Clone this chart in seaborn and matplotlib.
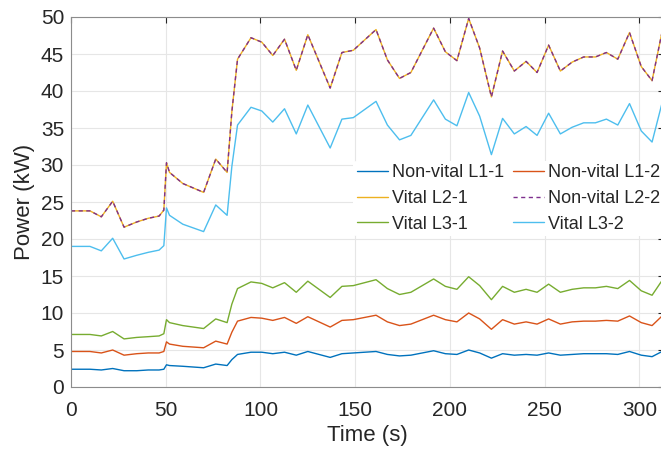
import matplotlib
matplotlib.use("Agg")
import matplotlib.pyplot as plt
import seaborn as sns

# ── Data ──────────────────────────────────────────────────────────────────────
time_s = [0, 10, 16, 22, 28, 34.7, 40.8, 46.5, 49, 50.4, 52, 59, 70, 76.4, 82.4,
          84.9, 87.9, 95, 100.7, 106.5, 112.7, 118.9, 125, 136.8, 143, 149, 161,
          167, 173.4, 179.4, 191.4, 197.6, 203.7, 209.9, 215.7, 221.9, 227.8, 234,
          240.2, 246, 252.1, 258.3, 264.5, 270.6, 276.8, 282.6, 288.6, 294.8, 301,
          306.7, 312]

nonvital_l1_1 = [2.4, 2.4, 2.3, 2.5, 2.2, 2.2, 2.3, 2.3, 2.4, 3.0, 2.9, 2.8, 2.6,
                 3.1, 2.9, 3.7, 4.4, 4.7, 4.7, 4.5, 4.7, 4.3, 4.8, 4.0, 4.5, 4.6,
                 4.8, 4.4, 4.2, 4.3, 4.9, 4.5, 4.4, 5.0, 4.6, 3.9, 4.5, 4.3, 4.4,
                 4.3, 4.6, 4.3, 4.4, 4.5, 4.5, 4.5, 4.4, 4.8, 4.3, 4.1, 4.8]

nonvital_l1_2 = [4.8, 4.8, 4.6, 5.0, 4.3, 4.5, 4.6, 4.6, 4.8, 6.1, 5.8, 5.5, 5.3,
                 6.2, 5.8, 7.4, 8.9, 9.4, 9.3, 9.0, 9.4, 8.6, 9.5, 8.1, 9.0, 9.1,
                 9.7, 8.8, 8.3, 8.5, 9.7, 9.1, 8.8, 10.0, 9.2, 7.8, 9.1, 8.5, 8.8,
                 8.5, 9.2, 8.5, 8.8, 8.9, 8.9, 9.0, 8.9, 9.6, 8.7, 8.3, 9.6]

vital_l2_1 = [23.8, 23.8, 23.0, 25.1, 21.6, 22.3, 22.8, 23.1, 23.9, 30.3, 29.0,
              27.5, 26.3, 30.8, 29.0, 37.2, 44.3, 47.2, 46.6, 44.8, 47.0, 42.8,
              47.6, 40.4, 45.2, 45.5, 48.3, 44.2, 41.7, 42.5, 48.5, 45.3, 44.1,
              49.8, 45.8, 39.2, 45.4, 42.7, 44.0, 42.5, 46.2, 42.7, 43.9, 44.6,
              44.6, 45.2, 44.3, 47.9, 43.3, 41.4, 48.0]

nonvital_l2_2 = [23.8, 23.8, 23.0, 25.1, 21.6, 22.3, 22.8, 23.1, 23.9, 30.3, 29.0,
                 27.5, 26.3, 30.8, 29.0, 37.2, 44.3, 47.2, 46.6, 44.8, 47.0, 42.8,
                 47.6, 40.4, 45.2, 45.5, 48.3, 44.2, 41.7, 42.5, 48.5, 45.3, 44.1,
                 49.8, 45.8, 39.2, 45.4, 42.7, 44.0, 42.5, 46.2, 42.7, 43.9, 44.6,
                 44.6, 45.2, 44.3, 47.9, 43.3, 41.4, 48.0]

vital_l3_1 = [7.1, 7.1, 6.9, 7.5, 6.5, 6.7, 6.8, 6.9, 7.2, 9.1, 8.7, 8.3, 7.9,
              9.2, 8.7, 11.2, 13.3, 14.2, 14.0, 13.4, 14.1, 12.8, 14.3, 12.1, 13.6,
              13.7, 14.5, 13.3, 12.5, 12.8, 14.6, 13.6, 13.2, 14.9, 13.7, 11.8,
              13.6, 12.8, 13.2, 12.8, 13.9, 12.8, 13.2, 13.4, 13.4, 13.6, 13.3,
              14.4, 13.0, 12.4, 14.4]

vital_l3_2 = [19.0, 19.0, 18.4, 20.1, 17.3, 17.8, 18.2, 18.5, 19.1, 24.2, 23.2,
              22.0, 21.0, 24.6, 23.2, 29.8, 35.4, 37.8, 37.3, 35.8, 37.6, 34.2,
              38.1, 32.3, 36.2, 36.4, 38.6, 35.4, 33.4, 34.0, 38.8, 36.2, 35.3,
              39.8, 36.6, 31.4, 36.3, 34.2, 35.2, 34.0, 37.0, 34.2, 35.1, 35.7,
              35.7, 36.2, 35.4, 38.3, 34.6, 33.1, 38.4]

# ── Style (MATLAB-like) ───────────────────────────────────────────────────────
sns.set_theme(style="whitegrid")
plt.rcParams["font.family"] = ["Liberation Sans Narrow", "Liberation Sans", "DejaVu Sans"]
plt.rcParams.update({
    "axes.edgecolor": "#8c8c8c",
    "axes.linewidth": 0.8,
    "grid.color": "#e6e6e6",
    "grid.linewidth": 0.8,
    "xtick.direction": "in",
    "ytick.direction": "in",
    "xtick.color": "#262626",
    "ytick.color": "#262626",
})

BLUE = "#0072BD"
ORANGE = "#D95319"
YELLOW = "#EDB120"
PURPLE = "#7E2F8E"
GREEN = "#77AC30"
CYAN = "#4DBEEE"

fig = plt.figure(figsize=(6.61, 4.57), dpi=100)
ax = fig.add_axes([71 / 661, 70 / 457, 593 / 661, 370 / 457])

LW = 1.0
series = [
    ("Non-vital L1-1", nonvital_l1_1, BLUE, "-"),
    ("Non-vital L1-2", nonvital_l1_2, ORANGE, "-"),
    ("Vital L2-1", vital_l2_1, YELLOW, "-"),
    ("Non-vital L2-2", nonvital_l2_2, PURPLE, "--"),
    ("Vital L3-1", vital_l3_1, GREEN, "-"),
    ("Vital L3-2", vital_l3_2, CYAN, "-"),
]
lines = {}
for label, vals, color, ls in series:
    sns.lineplot(x=time_s, y=vals, ax=ax, color=color, lw=LW, label=label)
    line = ax.get_lines()[-1]
    if ls == "--":
        line.set_dashes((3, 2.5))
    lines[label] = line

ax.set_xlim(0, 313)
ax.set_ylim(0, 50)
ax.set_xticks(range(0, 301, 50))
ax.set_yticks(range(0, 51, 5))
ax.tick_params(axis="both", labelsize=15, length=4, width=0.8,
               top=True, right=True)
ax.tick_params(axis="x", pad=10)
ax.tick_params(axis="y", pad=5)
ax.set_xlabel("Time (s)", fontsize=16, labelpad=4)
ax.set_ylabel("Power (kW)", fontsize=16, labelpad=4)
for side in ["top", "left", "bottom", "right"]:
    ax.spines[side].set_visible(True)

# legend fills row-wise like MATLAB
order = ["Non-vital L1-1", "Vital L2-1", "Vital L3-1",
         "Non-vital L1-2", "Non-vital L2-2", "Vital L3-2"]
ax.legend([lines[k] for k in order], order, ncol=2, fontsize=13,
          loc="upper left", bbox_to_anchor=(0.476, 0.612), borderaxespad=0,
          borderpad=0.2, handlelength=1.7, handletextpad=0.25,
          columnspacing=0.5, labelspacing=0.48,
          frameon=True, facecolor="white", edgecolor="none", framealpha=1)

fig.savefig("out.png", dpi=100)
